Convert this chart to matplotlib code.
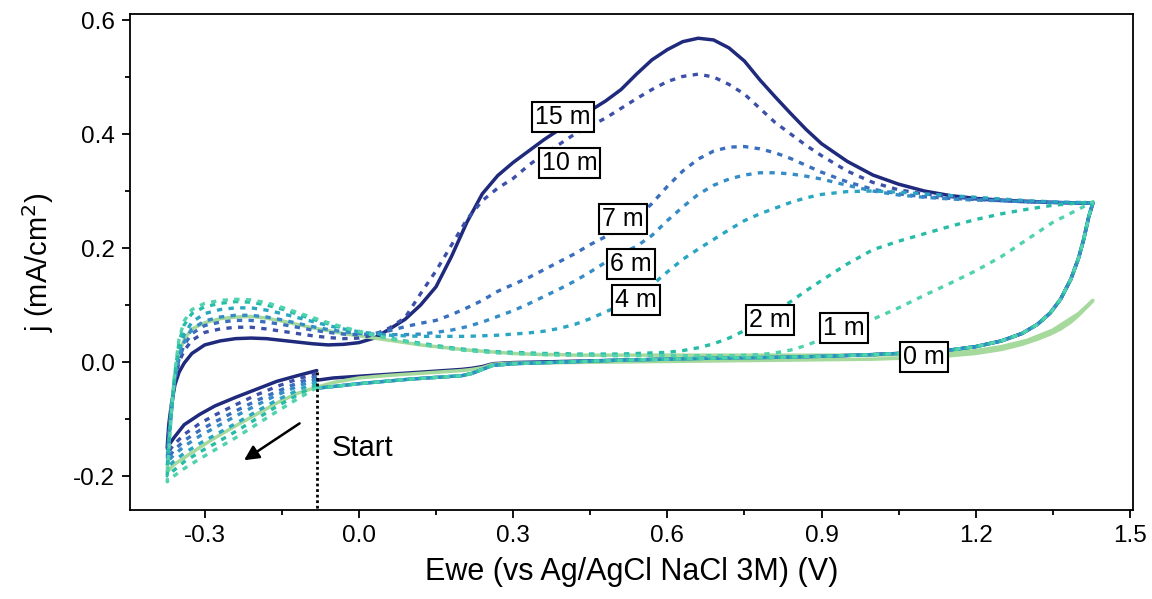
import numpy as np
import matplotlib
matplotlib.use('Agg')
import matplotlib.pyplot as plt
from matplotlib.ticker import MultipleLocator

plt.rcParams['font.family'] = ['Liberation Sans', 'DejaVu Sans']

# Potential grids (V vs Ag/AgCl)
V_cat = [-0.082, -0.12, -0.16, -0.20, -0.24, -0.28, -0.31, -0.34, -0.36, -0.373]
V_an = [-0.373, -0.370, -0.365, -0.358, -0.35, -0.34, -0.325, -0.30, -0.27, -0.24,
        -0.21, -0.18, -0.15, -0.12, -0.09, -0.06, -0.03, 0.0, 0.03, 0.06,
        0.09, 0.12, 0.15, 0.18, 0.21, 0.24, 0.27, 0.30, 0.33, 0.36,
        0.39, 0.42, 0.45, 0.48, 0.51, 0.54, 0.57, 0.60, 0.63, 0.66,
        0.69, 0.72, 0.75, 0.78, 0.81, 0.84, 0.87, 0.90, 0.95, 1.00,
        1.05, 1.10, 1.15, 1.20, 1.25, 1.30, 1.35, 1.40, 1.428]
V_rev = [1.428, 1.42, 1.41, 1.40, 1.385, 1.365, 1.345, 1.32, 1.29, 1.25,
         1.20, 1.15, 1.10, 1.00, 0.90, 0.80, 0.70, 0.60, 0.50, 0.40,
         0.30, 0.26, 0.24, 0.22, 0.20, 0.15, 0.10, 0.05, 0.0, -0.05, -0.082]

labels = ['15 m', '10 m', '7 m', '6 m', '4 m', '2 m', '1 m', '0 m']

# first sweep, -0.08 V -> -0.373 V
cat_15 = [-0.015, -0.024, -0.034, -0.048, -0.062, -0.077, -0.092, -0.110, -0.133, -0.150]
cat_10 = [-0.020, -0.030, -0.043, -0.058, -0.075, -0.093, -0.108, -0.127, -0.145, -0.160]
cat_7 = [-0.025, -0.037, -0.052, -0.068, -0.086, -0.105, -0.120, -0.138, -0.155, -0.170]
cat_6 = [-0.030, -0.043, -0.058, -0.076, -0.095, -0.115, -0.130, -0.148, -0.163, -0.175]
cat_4 = [-0.035, -0.050, -0.067, -0.087, -0.108, -0.128, -0.143, -0.160, -0.174, -0.185]
cat_2 = [-0.040, -0.058, -0.078, -0.100, -0.122, -0.143, -0.158, -0.175, -0.190, -0.200]
cat_1 = [-0.045, -0.065, -0.087, -0.110, -0.133, -0.154, -0.170, -0.187, -0.200, -0.210]
cat_0 = [-0.044, -0.055, -0.072, -0.092, -0.112, -0.133, -0.150, -0.168, -0.180, -0.193]

# anodic sweep, -0.373 V -> 1.43 V
an_15 = [-0.150, -0.110, -0.075, -0.040, -0.018, -0.002, 0.015, 0.030, 0.037, 0.041,
         0.042, 0.041, 0.038, 0.035, 0.032, 0.030, 0.031, 0.034, 0.042, 0.058,
         0.075, 0.100, 0.132, 0.185, 0.245, 0.295, 0.327, 0.350, 0.370, 0.390,
         0.408, 0.425, 0.441, 0.458, 0.478, 0.505, 0.530, 0.548, 0.562, 0.568,
         0.565, 0.551, 0.528, 0.495, 0.465, 0.436, 0.408, 0.383, 0.352, 0.328,
         0.312, 0.300, 0.292, 0.287, 0.284, 0.282, 0.280, 0.279, 0.279]
an_10 = [-0.160, -0.120, -0.080, -0.030, 0.000, 0.020, 0.038, 0.052, 0.058, 0.061,
         0.061, 0.058, 0.054, 0.050, 0.046, 0.043, 0.041, 0.042, 0.048, 0.060,
         0.078, 0.120, 0.160, 0.205, 0.250, 0.283, 0.305, 0.322, 0.345, 0.365,
         0.382, 0.400, 0.414, 0.428, 0.445, 0.462, 0.478, 0.492, 0.501, 0.505,
         0.500, 0.487, 0.470, 0.445, 0.420, 0.400, 0.380, 0.362, 0.335, 0.315,
         0.302, 0.295, 0.290, 0.286, 0.283, 0.281, 0.280, 0.279, 0.279]
an_7 = [-0.170, -0.130, -0.085, -0.030, 0.005, 0.030, 0.050, 0.064, 0.070, 0.073,
        0.073, 0.070, 0.066, 0.061, 0.056, 0.052, 0.049, 0.048, 0.050, 0.055,
        0.062, 0.068, 0.073, 0.083, 0.095, 0.108, 0.124, 0.136, 0.148, 0.162,
        0.176, 0.190, 0.206, 0.220, 0.235, 0.252, 0.278, 0.308, 0.335, 0.356,
        0.370, 0.377, 0.378, 0.374, 0.367, 0.357, 0.345, 0.333, 0.316, 0.303,
        0.295, 0.290, 0.287, 0.285, 0.283, 0.281, 0.280, 0.279, 0.279]
an_6 = [-0.175, -0.135, -0.090, -0.030, 0.010, 0.035, 0.058, 0.072, 0.079, 0.082,
        0.082, 0.079, 0.074, 0.068, 0.062, 0.057, 0.053, 0.050, 0.049, 0.048,
        0.048, 0.049, 0.052, 0.056, 0.062, 0.070, 0.080, 0.090, 0.102, 0.115,
        0.128, 0.142, 0.158, 0.175, 0.190, 0.203, 0.222, 0.248, 0.272, 0.294,
        0.310, 0.321, 0.328, 0.332, 0.332, 0.330, 0.326, 0.321, 0.310, 0.300,
        0.293, 0.289, 0.286, 0.284, 0.283, 0.281, 0.280, 0.279, 0.279]
an_4 = [-0.185, -0.140, -0.090, -0.025, 0.020, 0.048, 0.070, 0.085, 0.092, 0.095,
        0.095, 0.091, 0.085, 0.078, 0.071, 0.064, 0.058, 0.053, 0.050, 0.047,
        0.046, 0.045, 0.045, 0.045, 0.045, 0.046, 0.047, 0.049, 0.051, 0.054,
        0.059, 0.066, 0.076, 0.088, 0.100, 0.116, 0.135, 0.158, 0.180, 0.198,
        0.215, 0.232, 0.248, 0.260, 0.270, 0.280, 0.288, 0.294, 0.299, 0.300,
        0.298, 0.295, 0.292, 0.289, 0.286, 0.283, 0.281, 0.280, 0.279]
an_2 = [-0.200, -0.150, -0.090, -0.020, 0.035, 0.065, 0.085, 0.097, 0.103, 0.106,
        0.105, 0.100, 0.093, 0.084, 0.075, 0.067, 0.059, 0.053, 0.047, 0.042,
        0.037, 0.033, 0.029, 0.025, 0.022, 0.020, 0.018, 0.017, 0.016, 0.015,
        0.015, 0.014, 0.014, 0.014, 0.014, 0.015, 0.016, 0.017, 0.020, 0.025,
        0.032, 0.042, 0.055, 0.070, 0.088, 0.106, 0.125, 0.143, 0.172, 0.197,
        0.212, 0.225, 0.238, 0.250, 0.260, 0.268, 0.275, 0.279, 0.281]
an_1 = [-0.210, -0.160, -0.090, -0.015, 0.040, 0.072, 0.092, 0.103, 0.108, 0.110,
        0.109, 0.104, 0.096, 0.087, 0.078, 0.069, 0.061, 0.054, 0.047, 0.041,
        0.036, 0.031, 0.027, 0.023, 0.020, 0.018, 0.016, 0.015, 0.014, 0.013,
        0.012, 0.012, 0.012, 0.011, 0.011, 0.011, 0.011, 0.011, 0.011, 0.011,
        0.011, 0.011, 0.012, 0.013, 0.016, 0.021, 0.029, 0.040, 0.055, 0.075,
        0.095, 0.117, 0.138, 0.160, 0.185, 0.215, 0.245, 0.268, 0.281]
an_0 = [-0.193, -0.140, -0.080, -0.020, 0.015, 0.040, 0.058, 0.069, 0.076, 0.079,
        0.080, 0.077, 0.072, 0.066, 0.060, 0.055, 0.050, 0.046, 0.042, 0.038,
        0.034, 0.030, 0.027, 0.024, 0.021, 0.019, 0.017, 0.015, 0.014, 0.013,
        0.013, 0.012, 0.012, 0.012, 0.012, 0.012, 0.012, 0.012, 0.012, 0.012,
        0.012, 0.012, 0.012, 0.012, 0.012, 0.012, 0.012, 0.012, 0.012, 0.012,
        0.013, 0.014, 0.016, 0.020, 0.027, 0.038, 0.056, 0.085, 0.108]

# reverse sweep, 1.43 V -> -0.08 V
rev_15 = [0.279, 0.255, 0.215, 0.182, 0.145, 0.110, 0.086, 0.066, 0.050, 0.037,
          0.027, 0.021, 0.017, 0.013, 0.010, 0.008, 0.007, 0.005, 0.003, 0.001,
          -0.001, -0.003, -0.008, -0.011, -0.013, -0.016, -0.019, -0.022, -0.025, -0.028, -0.032]
rev_dot = [0.279, 0.255, 0.215, 0.182, 0.145, 0.110, 0.086, 0.066, 0.050, 0.037,
           0.027, 0.021, 0.017, 0.013, 0.010, 0.008, 0.007, 0.005, 0.003, 0.000,
           -0.003, -0.006, -0.013, -0.020, -0.024, -0.027, -0.030, -0.034, -0.038, -0.043, -0.046]
rev_0 = [0.108, 0.100, 0.091, 0.082, 0.070, 0.058, 0.049, 0.040, 0.031, 0.022,
         0.015, 0.011, 0.008, 0.005, 0.004, 0.003, 0.002, 0.001, 0.000, -0.001,
         -0.002, -0.004, -0.010, -0.013, -0.015, -0.018, -0.021, -0.024, -0.028, -0.036, -0.044]

cats = [cat_15, cat_10, cat_7, cat_6, cat_4, cat_2, cat_1, cat_0]
ans = [an_15, an_10, an_7, an_6, an_4, an_2, an_1, an_0]
revs = [rev_15, rev_dot, rev_dot, rev_dot, rev_dot, rev_dot, rev_dot, rev_0]

colors = ['#1f2a7c', '#3c50aa', '#3a6ebe', '#368cc6', '#2aa6c2', '#26bca6', '#4fd2ad', '#a6d99c']

# label positions (V, j) of the boxed tags
label_x = [0.397, 0.41, 0.514, 0.529, 0.539, 0.80, 0.944, 1.099]
label_y = [0.430, 0.349, 0.251, 0.172, 0.109, 0.074, 0.060, 0.009]

fig = plt.figure(figsize=(11.52, 5.99), dpi=100)
ax = fig.add_axes([0.1128, 0.1486, 0.8707, 0.828])

# draw order: navy, green, then dotted ones on top
order = [0, 7, 1, 2, 3, 4, 5, 6]
for i in order:
    V = V_cat + V_an[1:] + V_rev[1:]
    j = cats[i] + ans[i][1:] + revs[i][1:]
    if i in (0, 7):
        ax.plot(V, j, color=colors[i], lw=2.5, solid_capstyle='round', zorder=2)
    else:
        ax.plot(V, j, color=colors[i], lw=2.4, linestyle=(0, (1.6, 1.9)), zorder=3)

for i in range(len(labels)):
    ax.text(label_x[i], label_y[i], labels[i], fontsize=18, ha='center', va='center',
            zorder=5, bbox=dict(boxstyle='square,pad=0.12', fc='white', ec='black', lw=1.5))

# start marker
ax.plot([-0.082, -0.082], [-0.018, -0.27], color='black', lw=2, linestyle=(0, (1, 1)), zorder=4)
ax.annotate('', xy=(-0.228, -0.175), xytext=(-0.111, -0.105),
            arrowprops=dict(arrowstyle='-|>', color='black', lw=1.8, mutation_scale=22))
ax.text(-0.053, -0.15, 'Start', fontsize=21, ha='left', va='center')

ax.set_xlim(-0.4455, 1.506)
ax.set_ylim(-0.2596, 0.6105)
ax.xaxis.set_minor_locator(MultipleLocator(0.15))
ax.yaxis.set_minor_locator(MultipleLocator(0.1))
ax.set_xticks([-0.3, 0.0, 0.3, 0.6, 0.9, 1.2, 1.5])
ax.set_xticklabels(['-0.3', '0.0', '0.3', '0.6', '0.9', '1.2', '1.5'])
ax.set_yticks([-0.2, 0.0, 0.2, 0.4, 0.6])
ax.set_yticklabels(['-0.2', '0.0', '0.2', '0.4', '0.6'])
ax.tick_params(which='major', direction='out', length=6, width=1.3, labelsize=17.5, pad=5)
ax.tick_params(which='minor', direction='out', length=3.5, width=1.3)
for s in ax.spines.values():
    s.set_linewidth(1.3)

ax.set_xlabel('Ewe (vs Ag/AgCl NaCl 3M) (V)', fontsize=22, labelpad=7)
ax.set_ylabel('j (mA/cm$^2$)', fontsize=21, labelpad=12)

fig.savefig('out.png', dpi=100)
